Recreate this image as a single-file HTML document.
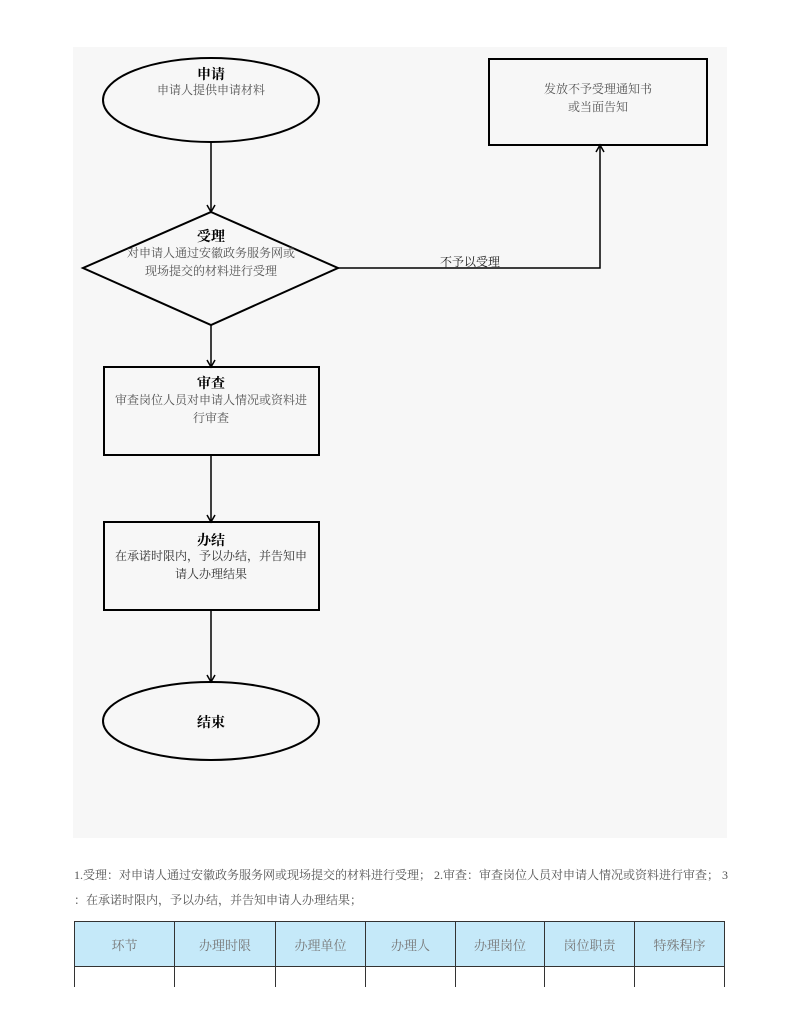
<!DOCTYPE html>
<html><head><meta charset="utf-8"><style>
body{margin:0;background:#fff;width:800px;height:1035px;position:relative;overflow:hidden;font-family:"Liberation Serif","Noto Serif CJK SC",serif}
.t{position:absolute;font-size:12px;color:#555;white-space:nowrap}
table{position:absolute;left:74px;top:921px;border-collapse:collapse}
td{border:1.5px solid #333;font-size:13px;color:#777;text-align:center;padding:0}
tr.b td{border-bottom:none}
</style></head><body>
<div style="position:absolute;left:73px;top:47px;width:654px;height:791px;background:#f7f7f7"></div>
<svg style="position:absolute;left:0;top:0" width="800" height="1035">
<g stroke="#000" stroke-width="2" fill="none">
<ellipse cx="211" cy="100" rx="108" ry="42"/>
<rect x="489" y="59" width="218" height="86"/>
<polygon points="211,212 338,268 211,325 83,268"/>
<rect x="104" y="367" width="215" height="88"/>
<rect x="104" y="522" width="215" height="88"/>
<ellipse cx="211" cy="721" rx="108" ry="39"/>
</g>
<g stroke="#000" stroke-width="1.5" fill="none">
<line x1="211" y1="142" x2="211" y2="211"/>
<line x1="211" y1="325" x2="211" y2="366"/>
<line x1="211" y1="455" x2="211" y2="521"/>
<line x1="211" y1="610" x2="211" y2="681"/>
<polyline points="338,268 600,268 600,147"/>
<path d="M207,205 L211,212 L215,205 M207,360 L211,367 L215,360 M207,515 L211,522 L215,515 M207,675 L211,682 L215,675 M596,152 L600,145 L604,152"/>
</g>
</svg>
<div class="t" style="left:111px;width:200px;text-align:center;top:64px;font-size:14px;font-weight:bold;color:#000">申请</div>
<div class="t" style="left:111px;width:200px;text-align:center;top:81px">申请人提供申请材料</div>
<div class="t" style="left:498px;width:200px;text-align:center;top:80px;line-height:18px">发放不予受理通知书<br>或当面告知</div>
<div class="t" style="left:111px;width:200px;text-align:center;top:226px;font-size:14px;font-weight:bold;color:#000">受理</div>
<div class="t" style="left:111px;width:200px;text-align:center;top:244px;line-height:18px">对申请人通过安徽政务服务网或<br>现场提交的材料进行受理</div>
<div class="t" style="left:440px;top:253px;color:#222">不予以受理</div>
<div class="t" style="left:111px;width:200px;text-align:center;top:373px;font-size:14px;font-weight:bold;color:#000">审查</div>
<div class="t" style="left:111px;width:200px;text-align:center;top:391px;line-height:18px">审查岗位人员对申请人情况或资料进<br>行审查</div>
<div class="t" style="left:111px;width:200px;text-align:center;top:530px;font-size:14px;font-weight:bold;color:#000">办结</div>
<div class="t" style="left:111px;width:200px;text-align:center;top:547px;line-height:18px;color:#333">在承诺时限内，予以办结，并告知申<br>请人办理结果</div>
<div class="t" style="left:111px;width:200px;text-align:center;top:712px;font-size:14px;font-weight:bold;color:#000">结束</div>
<div class="t" style="left:74px;top:866px">1.受理：对申请人通过安徽政务服务网或现场提交的材料进行受理； 2.审查：审查岗位人员对申请人情况或资料进行审查； 3</div>
<div class="t" style="left:74px;top:891px">：在承诺时限内，予以办结，并告知申请人办理结果；</div>
<table><tr style="height:45px;background:#c5e9f9"><td style="width:99px">环节</td><td style="width:100px">办理时限</td><td style="width:89px">办理单位</td><td style="width:89px">办理人</td><td style="width:88px">办理岗位</td><td style="width:89px">岗位职责</td><td style="width:89px">特殊程序</td></tr>
<tr class="b" style="height:20px"><td></td><td></td><td></td><td></td><td></td><td></td><td></td></tr></table>
</body></html>
